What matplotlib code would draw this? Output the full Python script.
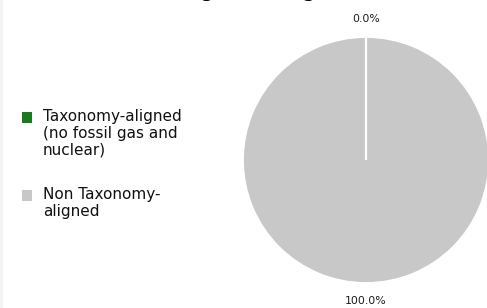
import numpy as np
import matplotlib.pyplot as plt
from matplotlib.patches import Rectangle

# data
labels = ['Taxonomy-aligned\n(no fossil gas and\nnuclear)', 'Non Taxonomy-\naligned']
values = [0.0, 100.0]
colors = ['#1b7a1b', '#c8c8c8']
title = 'excluding sovereign bonds*'

plt.rcParams['font.family'] = ['DejaVu Sans']

W, H = 487, 308
fig = plt.figure(figsize=(W / 100, H / 100), dpi=100)
fig.patch.set_facecolor('white')

# light strip on the left edge
fig.patches.append(Rectangle((0, 0), 3 / W, 1, transform=fig.transFigure,
                             facecolor='#f2f2f2', edgecolor='none', zorder=0))

# title, cut off at the top of the picture (only descenders visible)
fig.text(262 / W, 1 + 2.7 / H, title, ha='center', va='baseline',
         fontsize=16, color='black')

# pie, center (366,160) px, radius 123 px
cx, cy, r = 366, 160, 123
ax = fig.add_axes([(cx - r) / W, (H - cy - r) / H, 2 * r / W, 2 * r / H])
wedges, texts, autotexts = ax.pie(
    values, colors=colors, startangle=90, counterclock=False,
    autopct='%.1f%%', pctdistance=1.15,
    wedgeprops=dict(edgecolor='white', linewidth=1.3),
    textprops=dict(fontsize=7.8, color='#1a1a1a'))
# separator of the empty slice
th = np.deg2rad(wedges[0].theta1)
ax.plot([0, np.cos(th)], [0, np.sin(th)], color='white', lw=1.6,
        solid_capstyle='butt')
ax.set_xlim(-1, 1)
ax.set_ylim(-1, 1)
ax.set_aspect('auto')
ax.axis('off')

# legend drawn by hand
ys = [117, 195]
for lab, col, y in zip(labels, colors, ys):
    fig.patches.append(Rectangle((22 / W, 1 - (y + 5.5) / H), 10 / W, 11 / H,
                                 transform=fig.transFigure, facecolor=col,
                                 edgecolor='none'))
    fig.text(43 / W, 1 - (y - 8) / H, lab, ha='left', va='top',
             fontsize=11, color='#111111', linespacing=1.13)

fig.savefig('out.png', dpi=100, facecolor='white')
